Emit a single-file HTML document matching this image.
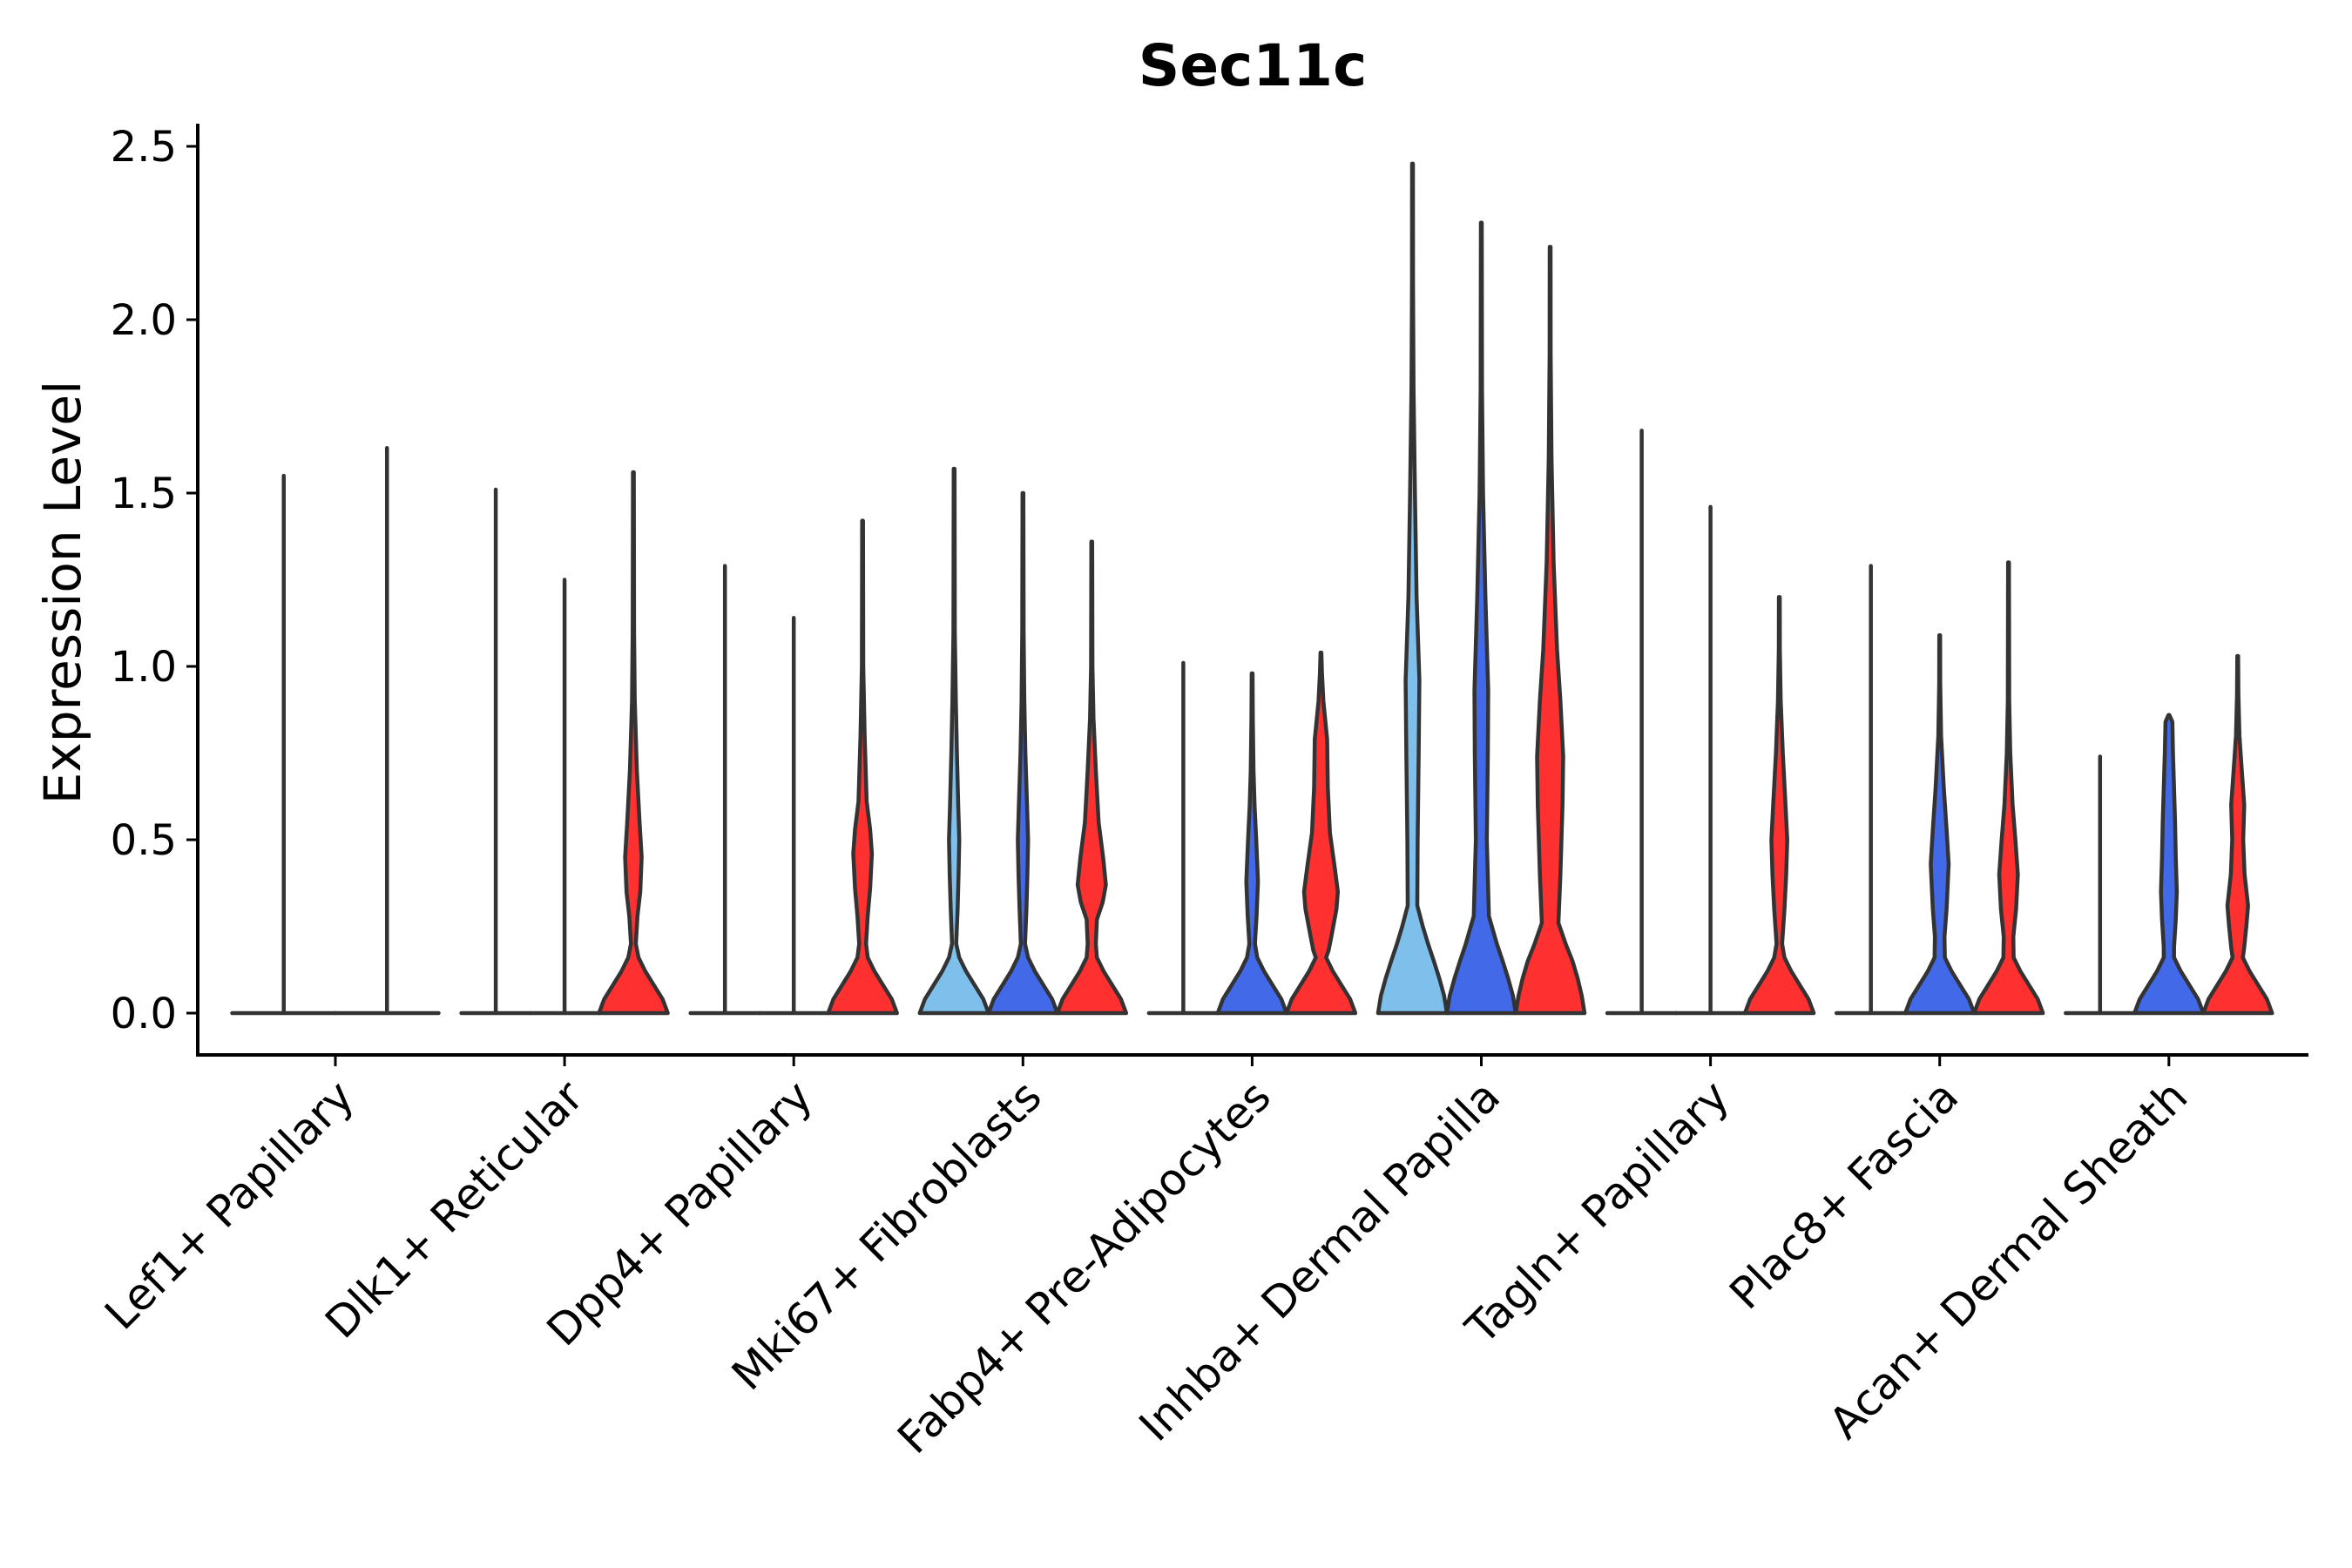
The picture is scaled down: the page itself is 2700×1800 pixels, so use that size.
<!DOCTYPE html>
<html><head><meta charset="utf-8">
<style>
html,body{margin:0;padding:0;background:#fff;}
svg{display:block;font-family:"DejaVu Sans","Liberation Sans",sans-serif;}
</style></head>
<body>
<svg id="chart" width="2700" height="1800" viewBox="0 0 2700 1800" xmlns="http://www.w3.org/2000/svg">
<text x="1438" y="98" text-anchor="middle" font-size="66" font-weight="bold" fill="#000">Sec11c</text>
<text transform="translate(92,680) rotate(-90)" text-anchor="middle" font-size="58" fill="#000">Expression Level</text>
<g id="axes"></g>
<g id="violins"></g>
</svg>
<script>
const categories = ["Lef1+ Papillary","Dlk1+ Reticular","Dpp4+ Papillary","Mki67+ Fibroblasts","Fabp4+ Pre-Adipocytes","Inhba+ Dermal Papilla","Tagln+ Papillary","Plac8+ Fascia","Acan+ Dermal Sheath"];
const yTicks = [0, 0.5, 1.0, 1.5, 2.0, 2.5];
const yTickLabels = ["0.0","0.5","1.0","1.5","2.0","2.5"];
// per group: series present (lb = light blue, b = blue, r = red)
const groupSeries = [["b","r"],["lb","b","r"],["lb","b","r"],["lb","b","r"],["lb","b","r"],["lb","b","r"],["lb","b","r"],["lb","b","r"],["lb","b","r"]];
// max expression per violin
const groupMax = [[1.55,1.63],[1.51,1.25,1.56],[1.29,1.14,1.42],[1.57,1.50,1.36],[1.01,0.98,1.04],[2.45,2.28,2.21],[1.68,1.46,1.20],[1.29,1.09,1.30],[0.74,0.86,1.03]];
// density profiles [value, relative half-width]; null = all zeros (flat violin)
const base = [[0,1],[0.04,0.85],[0.08,0.6],[0.12,0.35],[0.16,0.15]];
const shapes = [
 [null,null],
 [null,null,[[0.2,0.07],[0.28,0.12],[0.35,0.2],[0.45,0.24],[0.55,0.18],[0.7,0.1],[0.9,0.04],[1.1,0.02]]],
 [null,null,[[0.2,0.1],[0.28,0.15],[0.36,0.22],[0.46,0.27],[0.53,0.22],[0.61,0.12],[0.8,0.06],[1.0,0.02]]],
 [[[0.2,0.06],[0.3,0.1],[0.4,0.13],[0.5,0.15],[0.6,0.12],[0.75,0.08],[0.9,0.05],[1.1,0.02]],
  [[0.2,0.06],[0.3,0.1],[0.4,0.13],[0.5,0.15],[0.6,0.12],[0.75,0.07],[0.9,0.04],[1.1,0.02]],
  [[0.2,0.12],[0.27,0.15],[0.32,0.32],[0.37,0.41],[0.45,0.33],[0.55,0.2],[0.7,0.12],[0.85,0.05],[1.0,0.02]]],
 [null,
  [[0.2,0.08],[0.28,0.13],[0.38,0.17],[0.5,0.12],[0.6,0.07],[0.7,0.04],[0.85,0.02]],
  [[0.18,0.22],[0.22,0.3],[0.3,0.45],[0.35,0.49],[0.42,0.4],[0.52,0.26],[0.65,0.2],[0.79,0.18],[0.9,0.07],[0.98,0.03]]],
 [[[0,1],[0.05,0.92],[0.1,0.78],[0.15,0.62],[0.2,0.45],[0.25,0.3],[0.31,0.14],[0.5,0.15],[0.75,0.18],[0.96,0.2],[1.2,0.12],[1.5,0.07],[1.8,0.03],[2.1,0.015]],
  [[0,1],[0.05,0.92],[0.1,0.78],[0.15,0.62],[0.2,0.45],[0.28,0.22],[0.5,0.16],[0.75,0.19],[0.93,0.2],[1.2,0.12],[1.5,0.05],[1.8,0.02]],
  [[0,1],[0.05,0.92],[0.1,0.8],[0.15,0.65],[0.2,0.45],[0.26,0.24],[0.4,0.3],[0.6,0.36],[0.74,0.38],[0.9,0.3],[1.05,0.2],[1.3,0.1],[1.6,0.04],[1.9,0.015]]],
 [null,null,[[0.2,0.08],[0.3,0.15],[0.4,0.2],[0.5,0.23],[0.6,0.18],[0.75,0.1],[0.9,0.04],[1.05,0.015]]],
 [null,
  [[0.22,0.14],[0.3,0.2],[0.43,0.26],[0.53,0.2],[0.65,0.12],[0.8,0.04],[0.95,0.015]],
  [[0.22,0.14],[0.3,0.22],[0.4,0.27],[0.5,0.2],[0.6,0.12],[0.75,0.05],[0.9,0.02]]],
 [null,
  [[0.19,0.15],[0.27,0.2],[0.35,0.23],[0.45,0.2],[0.55,0.18],[0.75,0.12],[0.84,0.1]],
  [[0.19,0.19],[0.25,0.25],[0.31,0.3],[0.4,0.2],[0.5,0.16],[0.6,0.19],[0.7,0.12],[0.8,0.05],[0.92,0.02]]]
];
const colors = {lb:"#7FBFEB", b:"#4169E8", r:"#FF3030"};
const X0 = 227, X1 = 2650, Y0 = 1163, PX_PER_UNIT = 398, firstTick = 385, tickStep = 263.1, AXIS_Y = 1211;
function yScale(v){ return Y0 - v * PX_PER_UNIT; }
function xScale(i){ return firstTick + i * tickStep; }
const NS = "http://www.w3.org/2000/svg";
function mk(tag, attrs, parent){ const e = document.createElementNS(NS, tag); for (const k in attrs) e.setAttribute(k, attrs[k]); parent.appendChild(e); return e; }
const axes = document.getElementById('axes');
const yl = mk('line', {x1:X0, y1:142, x2:X0, y2:AXIS_Y+2, stroke:'#000', 'stroke-width':4}, axes);


const xl = mk('line', {x1:X0-2, y1:AXIS_Y, x2:X1, y2:AXIS_Y, stroke:'#000', 'stroke-width':4}, axes);


yTicks.forEach((t, i) => {
  const y = yScale(t);
  const tk = mk('line', {x1:X0-13, y1:y, x2:X0, y2:y, stroke:'#000', 'stroke-width':3}, axes);
  
  
  const lb = mk('text', {x:X0-24, y:y+17, 'text-anchor':'end', 'font-size':48, fill:'#000'}, axes);
  lb.textContent = yTickLabels[i];
  
  
});
categories.forEach((c, i) => {
  const x = xScale(i);
  const tk = mk('line', {x1:x, y1:AXIS_Y, x2:x, y2:AXIS_Y+13, stroke:'#000', 'stroke-width':3}, axes);
  
  
  const lb = mk('text', {transform:`translate(${x+24},${1262}) rotate(-45)`, 'text-anchor':'end', 'font-size':50, fill:'#000'}, axes);
  lb.textContent = c;
  
  
});
const vg = document.getElementById('violins');
const groupWidth = 237;
groupSeries.forEach((ser, gi) => {
  const n = ser.length, slot = groupWidth / n, hw = slot / 2;
  ser.forEach((s, k) => {
    const cx = xScale(gi) - groupWidth/2 + slot*(k+0.5);
    const mx = groupMax[gi][k];
    const prof = shapes[gi][k];
    if (!prof) {
      const p = mk('path', {d:`M${cx-hw},${yScale(0)} L${cx+hw},${yScale(0)} M${cx},${yScale(0)} L${cx},${yScale(mx)}`, fill:'none', stroke:'#333', 'stroke-width':4.5, 'stroke-linecap':'round'}, vg);
      
      
      return;
    }
    const pts = base.filter(p => p[0] < prof[0][0]).concat(prof).filter(p => p[0] < mx);
    pts.push([mx, 0.012]);
    const right = pts.map(p => [cx + p[1]*hw, yScale(p[0])]);
    const left = pts.slice().reverse().map(p => [cx - p[1]*hw, yScale(p[0])]);
    const all = right.concat(left);
    const d = 'M' + all.map(p => p[0].toFixed(1) + ',' + p[1].toFixed(1)).join(' L') + ' Z';
    const p = mk('path', {d, fill:colors[s], stroke:'#333', 'stroke-width':4.5, 'stroke-linejoin':'round'}, vg);
    
    
  });
});
</script>
</body></html>
